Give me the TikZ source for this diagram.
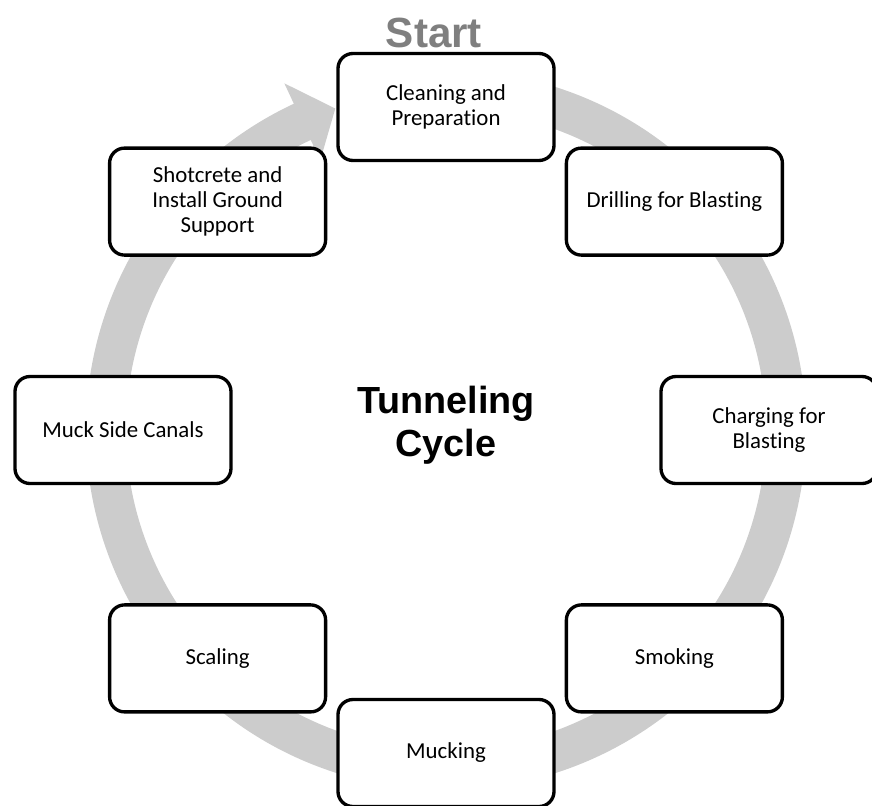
\documentclass[tikz,border=0pt]{standalone}
\usepackage{fontspec}
\setmainfont{Carlito}[Ligatures=NoCommon]
\newfontfamily\headfont{Liberation Sans}
\usetikzlibrary{calc}
\definecolor{ringgray}{RGB}{204,204,204}
\definecolor{startgray}{RGB}{127,127,127}

\begin{document}
\begin{tikzpicture}[
    stagebox/.style={draw=black, line width=1.9pt, fill=white, rounded corners=0.3cm,
        minimum width=4.32cm, minimum height=2.14cm, align=center,
        font=\fontsize{13}{14.2}\selectfont}
    ]
    \useasboundingbox (-8.92,-7.5) rectangle (8.52,8.6);
    % grey ring with the head pointing at the first stage
    \fill[ringgray] (80:7.2) arc[start angle=80, end angle=-245, radius=7.2]
        -- (115:7.65) -- (109:6.8) -- (115:5.95) -- (115:6.4)
        arc[start angle=-245, end angle=80, radius=6.4] -- cycle;
    \foreach \ang/\name/\txt in {90/clean/{Cleaning and\\Preparation},
                                 45/drill/{Drilling for Blasting},
                                 0/charge/{Charging for\\Blasting},
                                 -45/smoke/{Smoking},
                                 -90/muck/{Mucking},
                                 -135/scale/{Scaling},
                                 180/canal/{Muck Side Canals},
                                 135/shot/{Shotcrete and\\Install Ground\\Support}}{
        \node[stagebox] (\name) at (\ang:6.46) {\txt};
    }
    \node[font=\headfont\bfseries\fontsize{24}{28}\selectfont, text=startgray, anchor=south]
        (start) at ($(clean.north)+(-0.24,-0.05)$) {Start};
    \node[font=\headfont\bfseries\fontsize{21.5}{24.5}\selectfont, align=center]
        (cycle) at (0,0.1) {Tunneling\\Cycle};
\end{tikzpicture}
\end{document}
